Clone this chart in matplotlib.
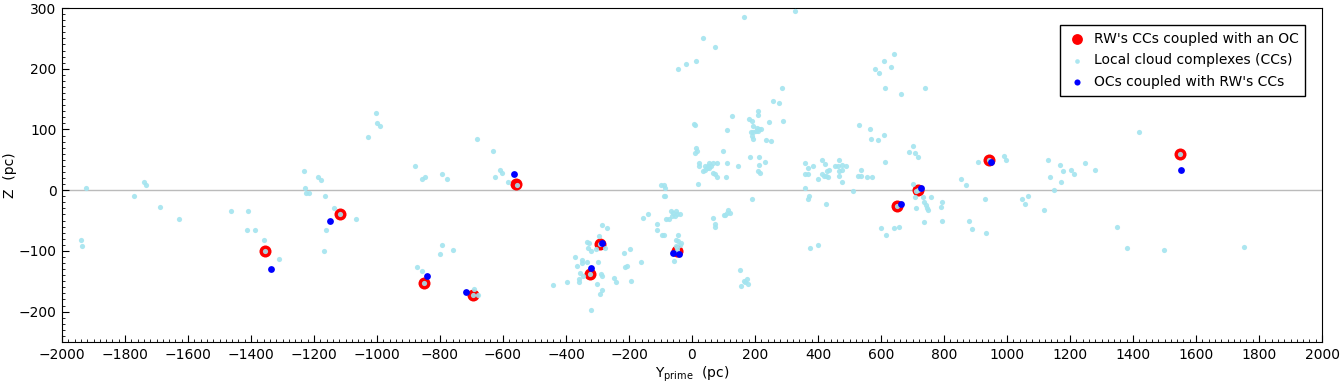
import matplotlib
matplotlib.use('Agg')
import matplotlib.pyplot as plt
from matplotlib.ticker import MultipleLocator

matplotlib.rcParams.update({'font.size': 10})

# local cloud complexes (CCs): Y_prime, Z in pc
cloud_y = [-1940, -1938, -1923, -1741, -1732, -1770, -1688, -1628,
           -1462, -1409, -1412, -1386, -1358, -1355, -1310,
           -1231, -1228, -1225, -1216, -1187, -1177, -1164, -1136, -1116, -1066, -1161, -1167,
           -1028, -1002, -999, -990,
           -878, -857, -847, -793, -777, -793, -799, -758, -872, -857, -850,
           -682, -631, -609, -602, -624, -583, -557, -691, -694, -678,
           -440, -396, -358, -358, -370, -348, -348, -364, -332, -355, -345,
           -333, -326, -329, -320, -304, -297, -323, -301, -320, -291, -285, -288, -285, -294, -285, -269, -275, -291,
           -247, -240, -215, -196, -212, -206, -193, -161,
           -155, -139, -110, -110, -94, -88,
           -100, -88, -85, -88, -85,
           -66, -59, -50, -47, -53, -37, -81, -72, -62,
           -44, -50, -44, -34, -37, -50, -47, -48, -56,
           36, 74, 14, -18, -44, 7, 10, 14, 17, 10,
           23, 23, 36, 42, 55, 61, 48, 55, 68, 74, 80, 80, 68, 42, 20, 52,
           68, 74, 74, 99, 112, 128, 112, 109, 147,
           106, 115, 122, 112, 103,
           153, 156, 166, 169, 175, 179, 166, 328,
           287, 258, 277, 182, 191, 210, 210, 245, 290,
           195, 207, 213, 220, 204, 210, 188, 195, 191, 195, 236, 252,
           185, 213, 213, 233, 210, 217, 191,
           360, 369, 360, 369, 385, 360, 372, 369, 426, 375, 401,
           414, 423, 414, 420, 433, 429, 436, 401, 426,
           455, 464, 467, 467, 467, 477, 490, 477, 477, 512,
           642, 610, 582, 594, 632, 614, 665, 741,
           531, 566, 569, 591, 610, 614, 538, 528, 538, 556, 572,
           690, 703, 709, 716, 703, 712, 719,
           652, 709, 734, 760, 737, 744, 747, 750, 712, 789, 795, 737, 795,
           601, 617, 642, 658,
           855, 871, 909, 944, 991, 998, 931, 880, 890, 934,
           1049, 1058, 1068, 1118,
           1131, 1137, 1150, 1169, 1178, 1172, 1204, 1213, 1249, 1280,
           1420, 1550, 1350, 1382, 1499, 1753]
cloud_z = [-82, -92, 3, 13, 9, -10, -27, -48,
           -35, -35, -66, -66, -82, -100, -114,
           32, 4, -5, -5, 21, 16, -10, -30, -40, -48, -66, -100,
           88, 127, 110, 105,
           40, 19, 22, 27, 19, -91, -105, -99, -127, -133, -153,
           85, 65, 34, 29, 22, 13, 9, -163, -173, -173,
           -156, -151, -146, -151, -110, -115, -120, -125, -119, -137, -141,
           -86, -87, -96, -100, -97, -119, -138, -155, -197, -171, -164, -138, -141, -76, -58, -63, -96, -88,
           -145, -151, -104, -97, -127, -125, -150, -119,
           -46, -40, -56, -66, -73, -73,
           8, 8, 3, -10, -10,
           -35, -38, -35, -40, -43, -40, -48, -48, -43,
           -74, -82, -84, -87, -91, -92, -96, -100, -117,
           250, 236, 213, 208, 200, 109, 108, 69, 65, 62,
           45, 39, 31, 39, 45, 39, 37, 36, 29, 26, 21, 45, 44, 34, 11, 40,
           -45, -55, -61, 65, 99, 122, 44, 21, 39,
           -41, -33, -38, -37, -41,
           -132, -158, -150, -152, -146, -155, 286, 295,
           168, 147, 144, 118, 114, 131, 124, 113, 114,
           106, 103, 101, 101, 98, 98, 96, 96, 90, 85, 83, 81,
           54, 55, 42, 46, 32, 29, -14,
           45, 36, 26, 26, 39, 3, -10, -15, -23, -96, -91,
           49, 43, 27, 24, 21, 32, 34, 19, 23,
           39, 39, 49, 32, 23, 42, 40, 34, 13, -1,
           224, 213, 200, 193, 203, 168, 158, 168,
           108, 101, 85, 83, 91, 47, 34, 23, 24, 21, 21,
           63, 72, 62, 54, 11, -2, 0,
           -26, -12, -12, -12, -20, -25, -30, -33, -30, -27, -20, -53, -51,
           -63, -73, -63, -60,
           18, 8, 47, 50, 57, 49, -14, -50, -64, -71,
           -15, -22, -9, -32,
           49, 21, 1, 42, 31, 13, 34, 26, 45, 34,
           95, 60, -61, -96, -99, -94]

# RW's CCs coupled with an OC
rw_y = [-1355, -1116, -850, -694, -558, -323, -291, -48, 652, 719, 944, 1550]
rw_z = [-100, -40, -153, -173, 11, -138, -88, -100, -26, 0, 50, 60]

# OCs coupled with RW's CCs
oc_y = [-1336, -1148, -840, -717, -564, -320, -287, -59, -40, 665, 728, 950, 1553]
oc_z = [-130, -51, -141, -168, 26, -128, -87, -103, -105, -23, 3, 47, 34]

fig = plt.figure(figsize=(13.44, 3.84), dpi=100)
ax = fig.add_axes([62/1344, 1 - 342/384, 1260/1344, 334/384])

ax.axhline(0, color='#bbbbbb', lw=1, zorder=1)
ax.scatter(rw_y, rw_z, s=75, color='red', linewidths=0, zorder=2,
           label="RW's CCs coupled with an OC")
ax.scatter(cloud_y, cloud_z, s=14, color='#a3e4ef', linewidths=0, alpha=0.9, zorder=3,
           label='Local cloud complexes (CCs)')
ax.scatter(oc_y, oc_z, s=24, color='blue', linewidths=0, zorder=4,
           label="OCs coupled with RW's CCs")

ax.set_xlim(-2000, 2000)
ax.set_ylim(-250, 300)
ax.xaxis.set_major_locator(MultipleLocator(200))
ax.xaxis.set_minor_locator(MultipleLocator(20))
ax.yaxis.set_major_locator(MultipleLocator(100))
ax.yaxis.set_minor_locator(MultipleLocator(10))
ax.tick_params(which='both', direction='in', top=False, right=False)
ax.tick_params(which='major', length=5, pad=4)
ax.tick_params(which='minor', length=2.5)

ax.set_xlabel(r'Y$_{\rm prime}$  (pc)', labelpad=2)
ax.set_ylabel('Z  (pc)', labelpad=1)
ax.legend(loc='upper right', fancybox=False, edgecolor='black', framealpha=1,
          fontsize=10, borderaxespad=1.2, handletextpad=0.5, handlelength=1.4,
          labelspacing=0.55, borderpad=0.5, markerscale=0.9)

plt.savefig('out.png', dpi=100)
